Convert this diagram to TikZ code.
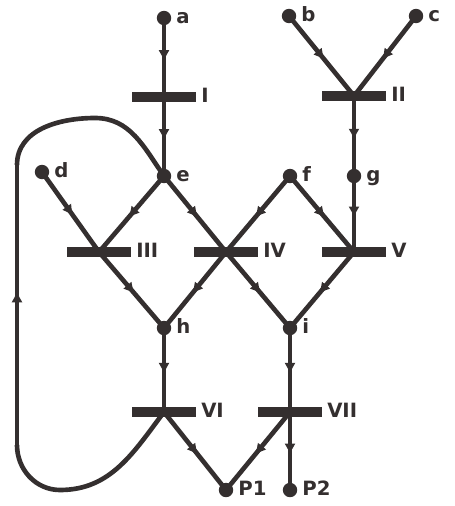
\documentclass[tikz,border=0pt]{standalone}
\usepackage{fontspec}
\setmainfont{DejaVu Sans}
\usetikzlibrary{arrows.meta,decorations.markings}
\definecolor{netGray}{RGB}{52,47,47}

\begin{document}
\begin{tikzpicture}[x=0.025cm, y=-0.025cm,
  every label/.style={font=\fontsize{14}{14}\selectfont\bfseries, text=netGray,
                      text height=1.5ex, text depth=0pt},
  place/.style={circle, fill=netGray, minimum size=0.36cm, inner sep=0pt,
                label distance=0.2cm},
  trans/.style={rectangle, fill=netGray, minimum width=1.6cm, minimum height=0.26cm,
                inner sep=0pt, label distance=0.05cm},
  flow/.style={line width=3.3pt, netGray, postaction={decorate},
               decoration={markings, mark=at position 0.55 with {\arrow{Latex[length=8pt,width=8pt]}}}},
  back/.style={line width=3.3pt, netGray},
]
\useasboundingbox (0,0) rectangle (454,506);

% Places
\node[place, label={right:a}] (a) at (164,18) {};
\node[place, label={right:b}] (b) at (289,16) {};
\node[place, label={right:c}] (c) at (416,16) {};
\node[place, label={right:d}] (d) at (42,172) {};
\node[place, label={right:e}] (e) at (164,176) {};
\node[place, label={right:f}] (f) at (290,176) {};
\node[place, label={right:g}] (g) at (354,176) {};
\node[place, label={right:h}] (h) at (164,328) {};
\node[place, label={right:i}] (i) at (290,328) {};
\node[place, label={right:P1}] (p1) at (226,490) {};
\node[place, label={right:P2}] (p2) at (290,490) {};

% Transitions
\node[trans, label={right:I}] (t1) at (164,97) {};
\node[trans, label={right:II}] (t2) at (354,96) {};
\node[trans, label={right:III}] (t3) at (99,252) {};
\node[trans, label={right:IV}] (t4) at (226,252) {};
\node[trans, label={right:V}] (t5) at (354,252) {};
\node[trans, label={right:VI}] (t6) at (164,412) {};
\node[trans, label={right:VII}] (t7) at (290,412) {};

% Arcs
\draw[flow] (a.center) -- (t1.center);
\draw[flow] (t1.center) -- (e.center);
\draw[flow] (b.center) -- (t2.center);
\draw[flow] (c.center) -- (t2.center);
\draw[flow] (t2.center) -- (g.center);
\draw[flow] (g.center) -- (t5.center);
\draw[flow] (d.center) -- (t3.center);
\draw[flow] (e.center) -- (t3.center);
\draw[flow] (e.center) -- (t4.center);
\draw[flow] (f.center) -- (t4.center);
\draw[flow] (f.center) -- (t5.center);
\draw[flow] (t3.center) -- (h.center);
\draw[flow] (t4.center) -- (h.center);
\draw[flow] (t4.center) -- (i.center);
\draw[flow] (t5.center) -- (i.center);
\draw[flow] (h.center) -- (t6.center);
\draw[flow] (i.center) -- (t7.center);
\draw[flow] (t6.center) -- (p1.center);
\draw[flow] (t7.center) -- (p1.center);
\draw[flow] (t7.center) -- (p2.center);

% Feedback loop VI -> e
\coordinate (lc) at (60,490);
\coordinate (lb) at (17,445);
\coordinate (lt) at (17,165);
\coordinate (ld) at (95,118);
\draw[back] (t6.center) to[out=-127,in=0] (lc) to[out=180,in=-90] (lb);
\draw[flow] (lb) -- (lt);
\draw[back] (lt) to[out=90,in=180] (ld) to[out=0,in=125] (e.center);

\end{tikzpicture}
\end{document}
